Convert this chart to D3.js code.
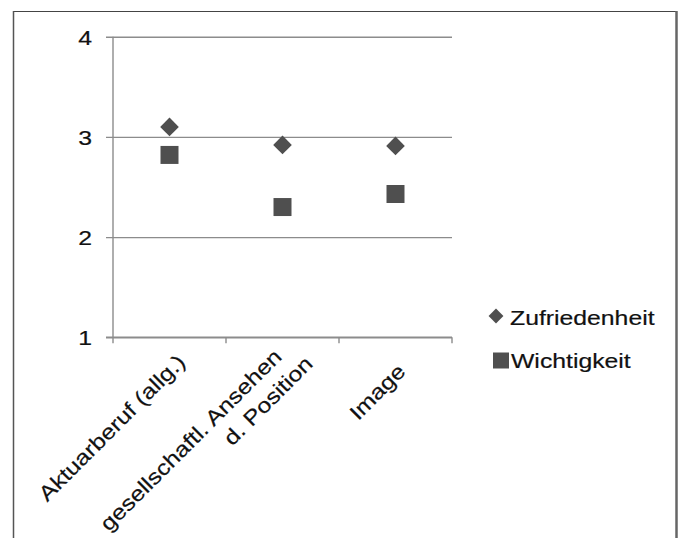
<!DOCTYPE html>
<html>
<head>
<meta charset="utf-8">
<script src="https://cdn.jsdelivr.net/npm/d3@7"></script>
<style>
  html, body { margin: 0; padding: 0; background: #fff; }
  svg { display: block; }
  text { font-family: "Liberation Sans", Arial, sans-serif; fill: #111; stroke: #111; stroke-width: 0.2px; }
</style>
</head>
<body>
<svg id="chart" width="684" height="538"></svg>
<script>
// ---- data ----
const categories = ["Aktuarberuf (allg.)", "gesellschaftl. Ansehen d. Position", "Image"];
const categoryLines = [["Aktuarberuf (allg.)"], ["gesellschaftl. Ansehen", "d. Position"], ["Image"]];
const zufriedenheit = [3.10, 2.92, 2.91];
const wichtigkeit = [2.82, 2.30, 2.43];
const seriesNames = ["Zufriedenheit", "Wichtigkeit"];
const yTicks = [1, 2, 3, 4];

// ---- layout ----
const W = 684, H = 538;
const plot = { left: 113, right: 452, top: 36.7, bottom: 337.3 };
const fontSize = 21, stretch = 1.18;
const markColor = "#4f4f4f";
// per-line label offsets in rotated frame [along, perp]
const labelOffsets = [[[-6.4, 30.4]], [[-14.3, 15], [2.7, 42]], [[-17, 33]]];

const svg = d3.select("#chart");

// frame
svg.append("line").attr("x1", 13).attr("x2", 676).attr("y1", 11.5).attr("y2", 11.5)
  .attr("stroke", "#444").attr("stroke-width", 1.2);
svg.append("line").attr("x1", 13.5).attr("x2", 13.5).attr("y1", 11).attr("y2", H)
  .attr("stroke", "#555").attr("stroke-width", 1.5);
svg.append("line").attr("x1", 676.5).attr("x2", 676.5).attr("y1", 11).attr("y2", H)
  .attr("stroke", "#666").attr("stroke-width", 2.5);

const x = d3.scaleBand().domain(categories).range([plot.left, plot.right]).padding(0);
const y = d3.scaleLinear().domain([1, 4]).range([plot.bottom, plot.top]);

// gridlines + y ticks
const yAxis = d3.axisLeft(y).tickValues(yTicks).tickSize(plot.right - plot.left + 7)
  .tickFormat(d3.format("d")).tickPadding(0);
const gy = svg.append("g").attr("transform", `translate(${plot.right},0)`).call(yAxis);
gy.select(".domain").remove();
gy.selectAll(".tick line").attr("stroke", "#8c8c8c").attr("stroke-width", 1.4);
gy.selectAll(".tick text").remove();
gy.selectAll(".tick").append("text")
  .attr("transform", `translate(${-(plot.right - plot.left) - 21},0) scale(${stretch},1)`)
  .attr("text-anchor", "end").attr("dy", "0.35em")
  .style("font-size", fontSize + "px")
  .text(d => d);

// y axis line
svg.append("line").attr("x1", plot.left).attr("x2", plot.left)
  .attr("y1", plot.top).attr("y2", plot.bottom)
  .attr("stroke", "#8c8c8c").attr("stroke-width", 1.4);

// x axis with boundary ticks
const gx = svg.append("g").attr("transform", `translate(0,${plot.bottom})`);
gx.append("line").attr("x1", plot.left - 7).attr("x2", plot.right)
  .attr("stroke", "#8c8c8c").attr("stroke-width", 1.4);
const bounds = categories.map(c => x(c)).concat([x(categories[categories.length - 1]) + x.bandwidth()]);
gx.selectAll(".bt").data(bounds).join("line").attr("class", "bt")
  .attr("x1", d => d).attr("x2", d => d).attr("y1", 0).attr("y2", 6)
  .attr("stroke", "#8c8c8c").attr("stroke-width", 1.4);

// category labels
categories.forEach((c, i) => {
  const g = gx.append("g")
    .attr("transform", `translate(${x(c) + x.bandwidth() / 2},0) rotate(-45)`);
  categoryLines[i].forEach((line, j) => {
    const [a, p] = labelOffsets[i][j];
    g.append("text")
      .attr("transform", `translate(${a},${p}) scale(${stretch},1)`)
      .attr("text-anchor", "end")
      .style("font-size", fontSize + "px")
      .text(line);
  });
});

// markers
const diamond = d3.symbol().type(d3.symbolSquare).size(174);
const square = d3.symbol().type(d3.symbolSquare).size(324);
svg.append("g").selectAll("path").data(zufriedenheit).join("path")
  .attr("d", diamond)
  .attr("transform", (d, i) => `translate(${x(categories[i]) + x.bandwidth() / 2},${y(d)}) rotate(45)`)
  .attr("fill", markColor);
svg.append("g").selectAll("path").data(wichtigkeit).join("path")
  .attr("d", square)
  .attr("transform", (d, i) => `translate(${x(categories[i]) + x.bandwidth() / 2},${y(d)})`)
  .attr("fill", markColor);

// legend
const legend = svg.append("g");
legend.append("path").attr("d", d3.symbol().type(d3.symbolSquare).size(110))
  .attr("transform", "translate(496,316) rotate(45)").attr("fill", markColor);
legend.append("text").attr("transform", `translate(510,325) scale(${stretch},1)`)
  .style("font-size", fontSize + "px").text(seriesNames[0]);
legend.append("path").attr("d", d3.symbol().type(d3.symbolSquare).size(256))
  .attr("transform", "translate(501,360.5)").attr("fill", markColor);
legend.append("text").attr("transform", `translate(511,368) scale(${stretch},1)`)
  .style("font-size", fontSize + "px").text(seriesNames[1]);
</script>
</body>
</html>
